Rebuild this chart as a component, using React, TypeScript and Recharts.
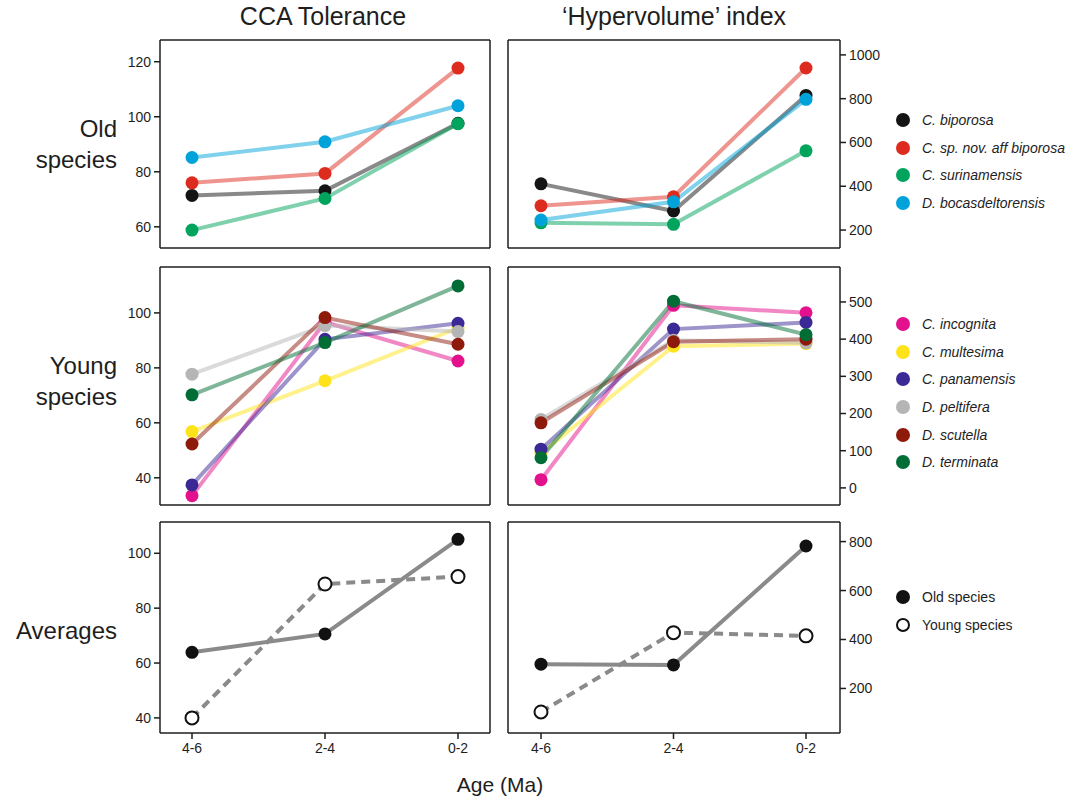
import React from 'react';
import { LineChart, Line, XAxis, YAxis } from 'recharts';

const ages = ['4-6', '2-4', '0-2'];

const oldSpecies = ['C. biporosa', 'C. sp. nov. aff biporosa', 'C. surinamensis', 'D. bocasdeltorensis'];
const oldColors = ['#141414', '#dd2c1f', '#00a45c', '#00a3d9'];
const oldCca = [
  [71.4, 73.1, 97.6],
  [76.0, 79.4, 117.7],
  [58.8, 70.3, 97.5],
  [85.2, 90.9, 104.0],
];
const oldHyper = [
  [411, 287, 815],
  [311, 352, 940],
  [233, 226, 562],
  [246, 329, 797],
];

const youngSpecies = ['C. incognita', 'C. multesima', 'C. panamensis', 'D. peltifera', 'D. scutella', 'D. terminata'];
const youngColors = ['#e3128c', '#ffe31a', '#3b2a96', '#b5b5b5', '#8e1a0c', '#006d36'];
const youngCca = [
  [33.5, 96.7, 82.5],
  [56.8, 75.3, 94.5],
  [37.4, 90.4, 96.2],
  [77.7, 95.4, 93.2],
  [52.3, 98.3, 88.6],
  [70.2, 89.2, 109.8],
];
const youngHyper = [
  [22, 491, 471],
  [93, 381, 388],
  [104, 427, 445],
  [184, 397, 390],
  [175, 393, 400],
  [81, 502, 412],
];

const avgGroups = ['Old species', 'Young species'];
const avgOldCca = [63.9, 70.6, 105.1];
const avgYoungCca = [40.0, 88.8, 91.5];
const avgOldHyper = [299, 296, 782];
const avgYoungHyper = [104, 428, 415];

const FONT = '"Liberation Sans", Arial, sans-serif';
const INK = '#1e1e1e';

const toRows = (series: number[][]) =>
  ages.map((age, i) => {
    const row: Record<string, any> = { age };
    series.forEach((s, k) => {
      row[`s${k}`] = s[i];
    });
    return row;
  });

interface PanelProps {
  series: number[][];
  colors: string[];
  domain: [number, number];
  ticks: number[];
  side: 'left' | 'right';
  height: number;
  bottomLabels?: boolean;
  averages?: boolean;
}

const Panel: React.FC<PanelProps> = ({ series, colors, domain, ticks, side, height, bottomLabels, averages }) => {
  const data = toRows(series);
  const isLeft = side === 'left';
  const width = isLeft ? 390 : 392;
  const tickStyle = { fill: INK, fontSize: 14, fontFamily: FONT };
  const pad = isLeft ? { left: 32, right: 32 } : { left: 33, right: 34 };

  return (
    <LineChart
      width={width}
      height={height}
      data={data}
      margin={{ top: 5, right: isLeft ? 9 : 0, left: isLeft ? 0 : 9, bottom: 0 }}
    >
      <XAxis
        dataKey="age"
        xAxisId="main"
        scale="point"
        padding={pad}
        height={bottomLabels ? 30 : 10}
        tick={bottomLabels ? tickStyle : false}
        tickSize={6}
        tickMargin={4}
        stroke={INK}
        strokeWidth={1.5}
        interval={0}
      />
      <XAxis
        dataKey="age"
        xAxisId="frame"
        orientation="top"
        scale="point"
        height={1}
        tick={false}
        tickLine={false}
        stroke={INK}
        strokeWidth={1.5}
      />
      <YAxis
        yAxisId="main"
        orientation={side}
        width={50}
        type="number"
        domain={domain}
        ticks={ticks}
        allowDataOverflow
        tick={tickStyle}
        tickSize={6}
        tickMargin={3}
        stroke={INK}
        strokeWidth={1.5}
        interval={0}
      />
      <YAxis
        yAxisId="frame"
        orientation={isLeft ? 'right' : 'left'}
        width={1}
        type="number"
        domain={[0, 1]}
        tick={false}
        tickLine={false}
        stroke={INK}
        strokeWidth={1.5}
      />
      {series.map((_, k) => {
        const open = averages && k === 1;
        return (
          <Line
            key={k}
            xAxisId="main"
            yAxisId="main"
            dataKey={`s${k}`}
            type="linear"
            stroke={averages ? '#8a8a8a' : colors[k]}
            strokeOpacity={averages ? 1 : 0.5}
            strokeWidth={4}
            strokeDasharray={open ? '9 6' : undefined}
            dot={{
              r: 6.5,
              fill: open ? '#ffffff' : colors[k],
              stroke: open ? '#111' : 'none',
              strokeWidth: open ? 2 : 0,
              strokeOpacity: 1,
              strokeDasharray: 'none',
            }}
            activeDot={false}
            isAnimationActive={false}
          />
        );
      })}
    </LineChart>
  );
};

const LegendBlock: React.FC<{ names: string[]; colors: string[]; top: number; italic?: boolean; openIndex?: number }> = ({
  names,
  colors,
  top,
  italic = true,
  openIndex,
}) => (
  <div style={{ position: 'absolute', left: 896, top, fontFamily: FONT, fontSize: 14, color: INK }}>
    {names.map((n, i) => (
      <div key={n} style={{ display: 'flex', alignItems: 'center', height: 27.7 }}>
        <span
          style={{
            display: 'inline-block',
            width: openIndex === i ? 10 : 14,
            height: openIndex === i ? 10 : 14,
            borderRadius: '50%',
            background: openIndex === i ? '#fff' : colors[i],
            border: openIndex === i ? '2px solid #111' : 'none',
            marginRight: 12,
          }}
        />
        <span style={{ fontStyle: italic ? 'italic' : 'normal' }}>{n}</span>
      </div>
    ))}
  </div>
);

const rowLabel: React.CSSProperties = {
  position: 'absolute',
  right: 1085 - 117,
  fontFamily: FONT,
  fontSize: 24,
  lineHeight: '31px',
  color: INK,
  textAlign: 'right',
  whiteSpace: 'nowrap',
};

const title: React.CSSProperties = {
  position: 'absolute',
  top: 2,
  textAlign: 'center',
  fontFamily: FONT,
  fontSize: 25,
  color: INK,
};

const App: React.FC = () => (
  <div style={{ position: 'absolute', left: 0, top: 0, width: 1085, height: 803, background: '#fff' }}>
    <div style={{ ...title, left: 158, width: 330 }}>CCA Tolerance</div>
    <div style={{ ...title, left: 508, width: 332 }}>‘Hypervolume’ index</div>

    <div style={{ ...rowLabel, top: 113 }}>Old<br />species</div>
    <div style={{ ...rowLabel, top: 350 }}>Young<br />species</div>
    <div style={{ ...rowLabel, top: 615 }}>Averages</div>

    <div style={{ position: 'absolute', left: 110, top: 34 }}>
      <Panel series={oldCca} colors={oldColors} domain={[52.3, 127.9]} ticks={[60, 80, 100, 120]} side="left" height={224} />
    </div>
    <div style={{ position: 'absolute', left: 498, top: 34 }}>
      <Panel series={oldHyper} colors={oldColors} domain={[118, 1068]} ticks={[200, 400, 600, 800, 1000]} side="right" height={224} />
    </div>

    <div style={{ position: 'absolute', left: 110, top: 261 }}>
      <Panel series={youngCca} colors={youngColors} domain={[30.1, 116.7]} ticks={[40, 60, 80, 100]} side="left" height={254} />
    </div>
    <div style={{ position: 'absolute', left: 498, top: 261 }}>
      <Panel series={youngHyper} colors={youngColors} domain={[-46, 594]} ticks={[0, 100, 200, 300, 400, 500]} side="right" height={254} />
    </div>

    <div style={{ position: 'absolute', left: 110, top: 516 }}>
      <Panel series={[avgOldCca, avgYoungCca]} colors={['#111', '#fff']} domain={[34.5, 111.4]} ticks={[40, 60, 80, 100]} side="left" height={247} bottomLabels averages />
    </div>
    <div style={{ position: 'absolute', left: 498, top: 516 }}>
      <Panel series={[avgOldHyper, avgYoungHyper]} colors={['#111', '#fff']} domain={[18, 880]} ticks={[200, 400, 600, 800]} side="right" height={247} bottomLabels averages />
    </div>

    <LegendBlock names={oldSpecies} colors={oldColors} top={106} />
    <LegendBlock names={youngSpecies} colors={youngColors} top={310} />
    <LegendBlock names={avgGroups} colors={['#111', '#fff']} top={583} italic={false} openIndex={1} />

    <div style={{ position: 'absolute', left: 160, width: 680, top: 773, textAlign: 'center', fontFamily: FONT, fontSize: 21, color: INK }}>
      Age (Ma)
    </div>
  </div>
);

export default App;
